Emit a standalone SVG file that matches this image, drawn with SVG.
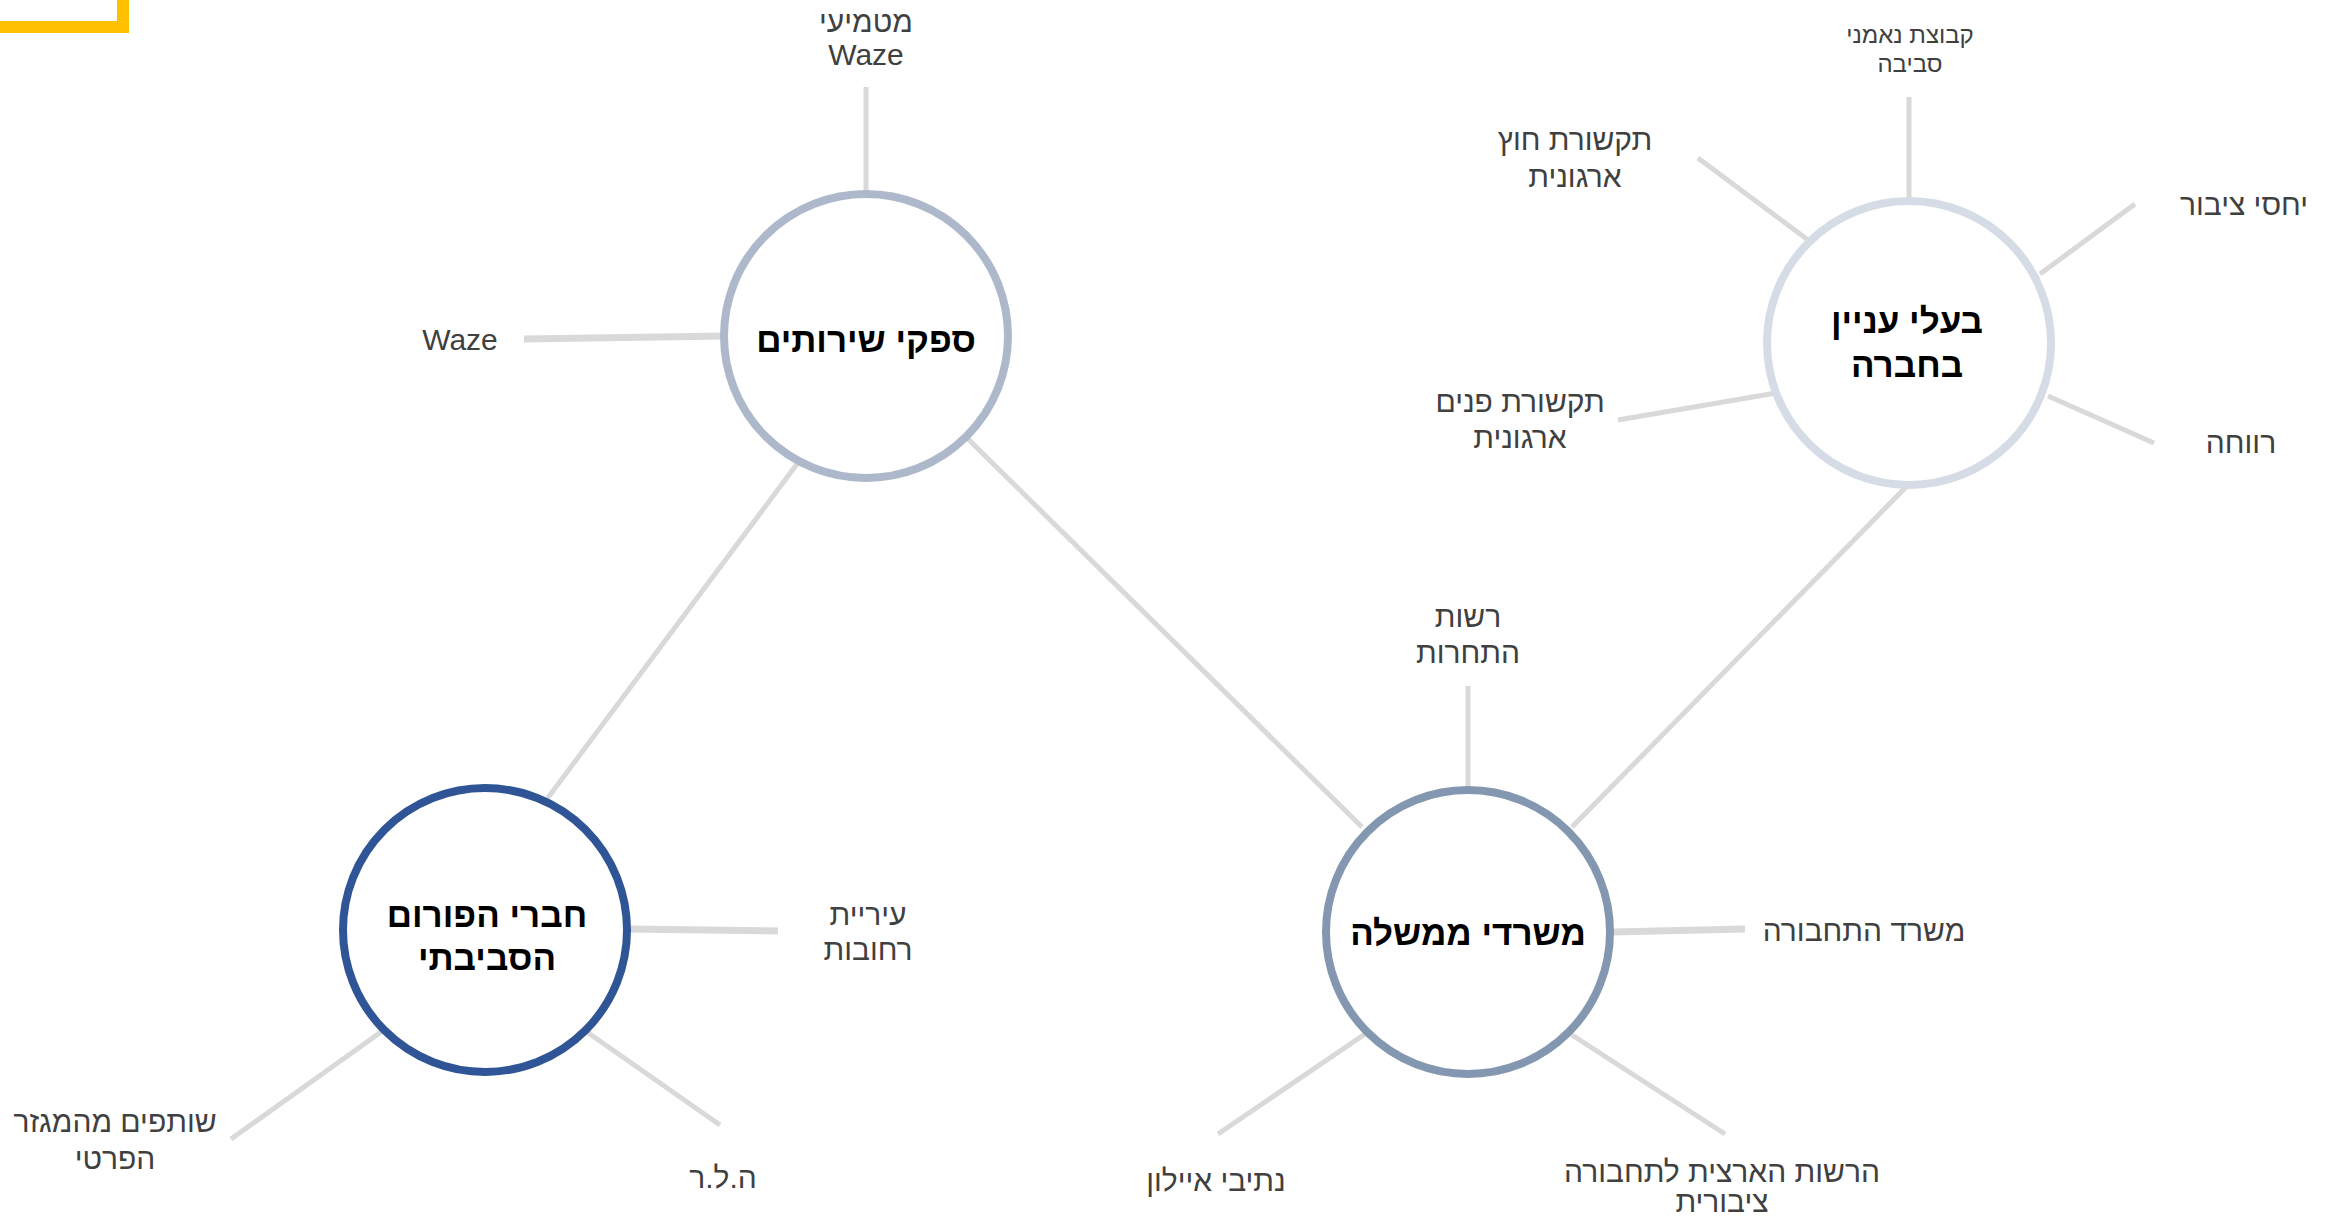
<svg xmlns="http://www.w3.org/2000/svg" width="2332" height="1216" viewBox="0 0 2332 1216">
<style>
.bg{fill:#FFFFFF}
.ln{stroke:#D9D9D9;stroke-width:5;fill:none}
.lnw{stroke:#D9D9D9;stroke-width:7;fill:none}
.node{fill:#FFFFFF;stroke-width:8}
.lbl{font-family:"Liberation Sans","DejaVu Sans",sans-serif;font-size:30px;fill:#404040;text-anchor:middle}
.lbls{font-family:"Liberation Sans","DejaVu Sans",sans-serif;font-size:24px;fill:#404040;text-anchor:middle}
.ttl{font-family:"Liberation Sans","DejaVu Sans",sans-serif;font-size:35px;font-weight:bold;fill:#000000;text-anchor:middle}
</style>
<rect class="bg" x="0" y="0" width="2332" height="1216"/>
<rect x="-50" y="-50" width="173" height="77" fill="none" stroke="#FFC000" stroke-width="12"/>
<g id="connectors">
<line class="ln" x1="866" y1="87" x2="866" y2="194"/>
<line class="lnw" x1="524" y1="339" x2="726" y2="336"/>
<line class="ln" x1="1909" y1="97" x2="1909" y2="200"/>
<line class="ln" x1="1698" y1="158" x2="1808" y2="240"/>
<line class="ln" x1="2135" y1="204" x2="2040" y2="274"/>
<line class="ln" x1="1618" y1="420" x2="1776" y2="393"/>
<line class="ln" x1="2154" y1="443" x2="2048" y2="396"/>
<line class="ln" x1="797" y1="464" x2="547" y2="799"/>
<line class="ln" x1="968" y1="439" x2="1362" y2="827"/>
<line class="ln" x1="1907" y1="486" x2="1572" y2="827"/>
<line class="lnw" x1="628" y1="929" x2="778" y2="931"/>
<line class="ln" x1="587" y1="1032" x2="720" y2="1125"/>
<line class="ln" x1="231" y1="1139" x2="381" y2="1032"/>
<line class="ln" x1="1468" y1="686" x2="1468" y2="790"/>
<line class="lnw" x1="1612" y1="932" x2="1745" y2="929"/>
<line class="ln" x1="1218" y1="1134" x2="1365" y2="1034"/>
<line class="ln" x1="1725" y1="1134" x2="1572" y2="1035"/>
</g>
<g id="node-service-providers">
<circle class="node" cx="866" cy="336" r="142" stroke="#ADB9CA"/>
<text class="ttl" x="866" y="352" direction="rtl">ספקי שירותים</text>
</g>
<g id="node-stakeholders">
<circle class="node" cx="1909" cy="343" r="142" stroke="#D6DCE5"/>
<text class="ttl" x="1907" y="333" direction="rtl">בעלי עניין</text>
<text class="ttl" x="1907" y="377" direction="rtl">בחברה</text>
</g>
<g id="node-forum">
<circle class="node" cx="485" cy="930" r="142" stroke="#2F5597"/>
<text class="ttl" x="487" y="927" direction="rtl">חברי הפורום</text>
<text class="ttl" x="487" y="970" direction="rtl">הסביבתי</text>
</g>
<g id="node-government">
<circle class="node" cx="1468" cy="932" r="142" stroke="#8497B0"/>
<text class="ttl" x="1468" y="945" direction="rtl">משרדי ממשלה</text>
</g>
<g id="leaf-waze-implementers">
<text class="lbl" x="866" y="32" direction="rtl">מטמיעי</text>
<text class="lbl" x="866" y="65">Waze</text>
</g>
<g id="leaf-waze"><text class="lbl" x="460" y="350">Waze</text></g>
<g id="leaf-trustees">
<text class="lbls" x="1910" y="43" direction="rtl">קבוצת נאמני</text>
<text class="lbls" x="1910" y="72" direction="rtl">סביבה</text>
</g>
<g id="leaf-external-comm">
<text class="lbl" x="1575" y="150" direction="rtl">תקשורת חוץ</text>
<text class="lbl" x="1575" y="187" direction="rtl">ארגונית</text>
</g>
<g id="leaf-pr"><text class="lbl" x="2244" y="215" direction="rtl">יחסי ציבור</text></g>
<g id="leaf-internal-comm">
<text class="lbl" x="1520" y="412" direction="rtl">תקשורת פנים</text>
<text class="lbl" x="1520" y="448" direction="rtl">ארגונית</text>
</g>
<g id="leaf-welfare"><text class="lbl" x="2241" y="453" direction="rtl">רווחה</text></g>
<g id="leaf-rehovot">
<text class="lbl" x="868" y="925" direction="rtl">עיריית</text>
<text class="lbl" x="868" y="960" direction="rtl">רחובות</text>
</g>
<g id="leaf-hlr"><text class="lbl" x="723" y="1188" direction="rtl">ה.ל.ר</text></g>
<g id="leaf-private">
<text class="lbl" x="115" y="1132" direction="rtl">שותפים מהמגזר</text>
<text class="lbl" x="115" y="1169" direction="rtl">הפרטי</text>
</g>
<g id="leaf-competition">
<text class="lbl" x="1468" y="627" direction="rtl">רשות</text>
<text class="lbl" x="1468" y="663" direction="rtl">התחרות</text>
</g>
<g id="leaf-transport-ministry"><text class="lbl" x="1864" y="941" direction="rtl">משרד התחבורה</text></g>
<g id="leaf-ayalon"><text class="lbl" x="1216" y="1191" direction="rtl">נתיבי איילון</text></g>
<g id="leaf-public-transport">
<text class="lbl" x="1722" y="1182" direction="rtl">הרשות הארצית לתחבורה</text>
<text class="lbl" x="1722" y="1212" direction="rtl">ציבורית</text>
</g>
</svg>
